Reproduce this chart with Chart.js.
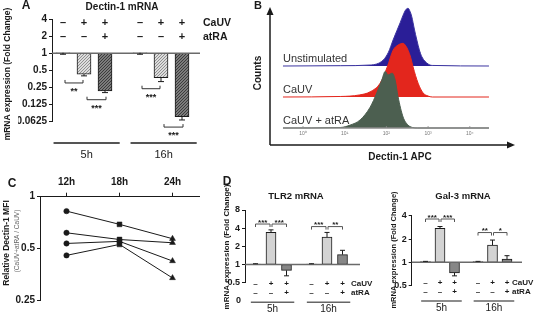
<!DOCTYPE html>
<html><head><meta charset="utf-8">
<script src="https://cdn.jsdelivr.net/npm/chart.js"></script>
<style>
html,body{margin:0;padding:0;background:#fff;}
#wrap{position:relative;width:540px;height:313px;overflow:hidden;background:#fff;}
#wrap canvas{position:absolute;left:0;top:0;}
</style></head><body>
<div id="wrap">
<canvas id="cA" width="540" height="313"></canvas>
<canvas id="cB" width="540" height="313"></canvas>
<canvas id="cC" width="540" height="313"></canvas>
<canvas id="cD1" width="540" height="313"></canvas>
<canvas id="cD2" width="540" height="313"></canvas>
</div>
<script>
// ================= DATA =================
const timepoints = ['5h', '16h'];
const caUVSigns = ['–', '+', '+'];
const atRASigns = ['–', '–', '+'];

// Panel A – Dectin-1 mRNA (fold change)
const dectinMean5h  = [1.02, 0.43, 0.217];
const dectinMean16h = [1.02, 0.37, 0.077];
const dectinErr5h   = [0.96, 0.40, 0.203];
const dectinErr16h  = [0.96, 0.317, 0.067];
const dectinSig5h   = ['**', '***'];
const dectinSig16h  = ['***', '***'];
const dectinTicks      = [0.0625, 0.125, 0.25, 0.5, 1, 2, 4];
const dectinTickLabels = ['0.0625', '0.125', '0.25', '0.5', '1', '2', '4'];

// Panel B – Dectin-1 APC histograms (log10 intensity, relative counts)
const apcTickDecades = [0, 1, 2, 3, 4];
const apcTickLabels  = ['10⁰', '10¹', '10²', '10³', '10⁴'];
const unstimDecade = [-0.48, 0.9, 1.61, 1.92, 2.05, 2.16, 2.25, 2.33, 2.40, 2.46, 2.52, 2.57, 2.61, 2.67, 2.73, 2.79, 2.85, 3.0, 3.1, 4.46];
const unstimCount  = [0, 0.5, 1.7, 10, 24, 45, 61, 75, 88, 97, 100, 94, 85, 64, 45, 28, 16, 3.5, 1, 0];
const cauvDecade   = [-0.48, 0.9, 1.35, 1.61, 1.85, 2.02, 2.16, 2.28, 2.40, 2.47, 2.52, 2.58, 2.64, 2.76, 2.88, 3.0, 3.1, 4.46];
const cauvCount    = [0, 0.9, 3.5, 9, 24, 52, 81, 90, 93, 88, 81, 69, 52, 24, 7, 1.7, 0, 0];
const atraDecade   = [-0.48, 0.9, 1.13, 1.37, 1.61, 1.77, 1.89, 1.97, 2.04, 2.14, 2.21, 2.28, 2.40, 2.52, 2.62, 2.75, 4.46];
const atraCount    = [0, 0.9, 5, 14, 36, 61, 83, 98, 92, 95, 83, 54, 19, 5, 1, 0, 0];

// Panel C – relative Dectin-1 MFI (CaUV+atRA / CaUV)
const mfiTimes  = ['12h', '18h', '24h'];
const mfiDonor1 = [0.824, 0.690, 0.569];
const mfiDonor2 = [0.616, 0.563, 0.539];
const mfiDonor3 = [0.534, 0.549, 0.422];
const mfiDonor4 = [0.455, 0.527, 0.336];
const mfiTicks      = [0.25, 0.5, 1];
const mfiTickLabels = ['0.25', '0.5', '1'];

// Panel D – TLR2 mRNA
const tlr2Mean5h  = [1.02, 3.4, 0.8];
const tlr2Mean16h = [1.02, 2.85, 1.46];
const tlr2Err5h   = [1.03, 3.75, 0.65];
const tlr2Err16h  = [1.03, 3.4, 1.72];
const tlr2Sig5h   = ['***', '***'];
const tlr2Sig16h  = ['***', '**'];
const tlr2Ticks      = [0.5, 1, 2, 4, 8];
const tlr2TickLabels = ['0.5', '1', '2', '4', '8'];

// Panel D – Gal-3 mRNA
const gal3Mean5h  = [1.02, 2.75, 0.73];
const gal3Mean16h = [1.02, 1.67, 1.1];
const gal3Err5h   = [1.03, 2.9, 0.67];
const gal3Err16h  = [1.03, 1.94, 1.22];
const gal3Sig5h   = ['***', '***'];
const gal3Sig16h  = ['**', '*'];
const gal3Ticks      = [0.5, 1, 2, 4];
const gal3TickLabels = ['0.5', '1', '2', '4'];

// ================= STYLE / HELPERS =================
const W = 540, H = 313;
const INK = '#1a1a1a';
const FAM = '"Liberation Sans", Arial, Helvetica, sans-serif';
const fnt = (size, bold = true) => (bold ? 'bold ' : '') + size + 'px ' + FAM;

function txt(ctx, s, x, y, o = {}) {
  ctx.save();
  ctx.font = o.font || fnt(10);
  ctx.fillStyle = o.color || INK;
  ctx.textAlign = o.align || 'center';
  ctx.textBaseline = o.baseline || 'middle';
  ctx.translate(x, y);
  if (o.rot) ctx.rotate(o.rot);
  ctx.fillText(s, 0, 0);
  ctx.restore();
}
function stars(ctx, s, x, yc, size) {
  ctx.save();
  ctx.font = fnt(size);
  ctx.fillStyle = INK;
  ctx.textAlign = 'center';
  ctx.textBaseline = 'alphabetic';
  ctx.fillText(s, x, yc + 0.58 * size);
  ctx.restore();
}
function seg(ctx, x1, y1, x2, y2) { ctx.beginPath(); ctx.moveTo(x1, y1); ctx.lineTo(x2, y2); ctx.stroke(); }
function hatch(bg, fg) {
  const c = document.createElement('canvas'); c.width = 3; c.height = 3;
  const x = c.getContext('2d');
  x.fillStyle = bg; x.fillRect(0, 0, 3, 3);
  x.fillStyle = fg; x.fillRect(0, 2, 1, 1); x.fillRect(1, 1, 1, 1); x.fillRect(2, 0, 1, 1);
  return x.createPattern(c, 'repeat');
}
const baseOpts = {responsive: false, animation: false, events: [], devicePixelRatio: 1,
  plugins: {legend: {display: false}, tooltip: {enabled: false}, title: {display: false}}};

// ================= BAR PANELS (A, D) =================
function barPanel(id, P) {
  const pts = [], bg = [];
  P.means.forEach((grp, g) => grp.forEach((v, t) => {
    pts.push({x: g + (t - 1) * P.within, y: [1, v]});
    bg.push(P.fills[t]);
  }));
  const xMin = (P.left - P.c0) / P.unit, xMax = (P.right - P.c0) / P.unit;
  const deco = {
    id: 'deco',
    afterDatasetsDraw(c) {
      const ctx = c.ctx, xs = c.scales.x, ys = c.scales.y, a = c.chartArea;
      ctx.save();
      const y1 = ys.getPixelForValue(1);
      ctx.strokeStyle = '#6a6a6a'; ctx.lineWidth = 1.5;
      seg(ctx, a.left, y1, a.right, y1);
      ctx.strokeStyle = INK; ctx.lineWidth = 1;
      P.means.forEach((grp, g) => {
        const cx = grp.map((v, t) => xs.getPixelForValue(g + (t - 1) * P.within));
        grp.forEach((v, t) => {
          const ym = ys.getPixelForValue(v), ye = ys.getPixelForValue(P.errs[g][t]);
          seg(ctx, cx[t], ym, cx[t], ye);
          seg(ctx, cx[t] - P.capW, ye, cx[t] + P.capW, ye);
        });
        ctx.strokeStyle = P.bracketColor;
        P.sigs[g].forEach((s, k) => {
          const i = k, j = k + 1;
          const lvl = P.below ? Math.min(P.errs[g][i], P.errs[g][j]) * P.bracketFactor
                              : Math.max(...P.errs[g]) * P.bracketFactor;
          const yb = ys.getPixelForValue(lvl);
          const x1 = cx[i] + P.bx[k][0], x2 = cx[j] + P.bx[k][1];
          const tk = P.below ? -3 : 3;
          ctx.beginPath(); ctx.moveTo(x1, yb + tk); ctx.lineTo(x1, yb); ctx.lineTo(x2, yb); ctx.lineTo(x2, yb + tk); ctx.stroke();
          stars(ctx, s, (x1 + x2) / 2, P.below ? yb + 6 : yb - 4, P.starSize);
        });
        ctx.strokeStyle = INK;
      });
      ctx.restore();
    },
    afterDraw(c) {
      const ctx = c.ctx, xs = c.scales.x;
      const wpx = xs.getPixelForValue(P.within) - xs.getPixelForValue(0);
      ctx.save();
      P.means.forEach((grp, g) => {
        grp.forEach((v, t) => {
          const x = xs.getPixelForValue(g + (t - 1) * P.within);
          txt(ctx, caUVSigns[t], x, P.rowY[0], {font: fnt(P.signSize)});
          txt(ctx, atRASigns[t], x, P.rowY[1], {font: fnt(P.signSize)});
        });
        const xc = xs.getPixelForValue(g);
        const x1 = xc + P.tl[0] * wpx, x2 = xc + P.tl[1] * wpx;
        ctx.strokeStyle = P.timeLineColor; ctx.lineWidth = P.timeLineW;
        seg(ctx, x1, P.timeY, x2, P.timeY);
        txt(ctx, timepoints[g], (x1 + x2) / 2, P.timeLabelY, {font: fnt(P.timeSize, false)});
      });
      txt(ctx, 'CaUV', P.rowLabelX, P.rowY[0], {align: 'left', font: fnt(P.rowLabelSize)});
      txt(ctx, 'atRA', P.rowLabelX, P.rowY[1], {align: 'left', font: fnt(P.rowLabelSize)});
      P.texts.forEach(o => txt(ctx, o.s, o.x, o.y, o));
      ctx.restore();
    }
  };
  return new Chart(document.getElementById(id), {
    type: 'bar',
    data: {datasets: [{data: pts, backgroundColor: bg, borderColor: INK, borderWidth: 1,
                       borderSkipped: false, barThickness: P.barW}]},
    options: Object.assign({}, baseOpts, {
      layout: {padding: {left: P.left - P.yW, right: W - P.right, top: P.top, bottom: H - P.bottom}},
      scales: {
        x: {type: 'linear', display: false, offset: false, grid: {offset: false}, min: xMin, max: xMax},
        y: {type: 'logarithmic', min: P.ticks[0], max: P.ticks[P.ticks.length - 1],
            afterBuildTicks: s => { s.ticks = P.ticks.map(v => ({value: v})); },
            afterFit: s => { s.width = P.yW; },
            ticks: {autoSkip: false, color: INK, padding: 2,
                    font: {family: FAM, size: P.tickSize, weight: 'bold'},
                    callback: v => P.tickLabels[P.ticks.indexOf(v)]},
            grid: {drawOnChartArea: false, drawTicks: true, tickLength: 3, tickColor: INK, tickWidth: 1},
            border: {display: true, color: INK, width: 1}}
      }
    }),
    plugins: [deco]
  });
}

const ROT = -Math.PI / 2;

barPanel('cA', {
  left: 52, right: 200, top: 19, bottom: 121.7, yW: 34,
  c0: 84, unit: 77, within: 21 / 77, barW: 14, capW: 3,
  ticks: dectinTicks, tickLabels: dectinTickLabels, tickSize: 10,
  means: [dectinMean5h, dectinMean16h], errs: [dectinErr5h, dectinErr16h], sigs: [dectinSig5h, dectinSig16h],
  below: true, bracketFactor: 0.75, bx: [[2, -1], [3, 1]], starSize: 9, bracketColor: '#333',
  fills: ['#ffffff', hatch('#dcdcdc', '#909090'), hatch('#7c7c7c', '#3c3c3c')],
  rowY: [23, 37], rowLabelX: 203, signSize: 11, rowLabelSize: 10.5,
  timeY: 143, timeLabelY: 155, tl: [-1.45, 1.7], timeSize: 11, timeLineColor: '#555', timeLineW: 2,
  texts: [
    {s: 'A', x: 26, y: 6, font: fnt(12)},
    {s: 'Dectin-1 mRNA', x: 122, y: 7, font: fnt(10)},
    {s: 'mRNA expression (Fold Change)', x: 8, y: 74, rot: ROT, font: fnt(8.5)}
  ]
});

barPanel('cD1', {
  left: 245, right: 360, top: 210, bottom: 282.7, yW: 22,
  c0: 271, unit: 56, within: 15.5 / 56, barW: 10, capW: 2.5,
  ticks: tlr2Ticks, tickLabels: tlr2TickLabels, tickSize: 9,
  means: [tlr2Mean5h, tlr2Mean16h], errs: [tlr2Err5h, tlr2Err16h], sigs: [tlr2Sig5h, tlr2Sig16h],
  below: false, bracketFactor: 1.25, bx: [[0, -1], [1, 0]], starSize: 8, bracketColor: '#555',
  fills: ['#ffffff', '#d3d3d3', '#878787'],
  rowY: [283.3, 292.3], rowLabelX: 351, signSize: 8, rowLabelSize: 8,
  timeY: 302.3, timeLabelY: 309.5, tl: [-1.3, 1.5], timeSize: 10, timeLineColor: '#666', timeLineW: 1.5,
  texts: [
    {s: 'D', x: 227, y: 182, font: fnt(12)},
    {s: 'TLR2 mRNA', x: 296, y: 196, font: fnt(9.5)},
    {s: 'mRNA expression (Fold Change)', x: 227, y: 247, rot: ROT, font: fnt(8)},
    {s: '0', x: 241, y: 301, align: 'right', font: fnt(9)}
  ]
});

barPanel('cD2', {
  left: 411.7, right: 522, top: 215.7, bottom: 285.7, yW: 22,
  c0: 440, unit: 52.5, within: 14.5 / 52.5, barW: 10, capW: 2.5,
  ticks: gal3Ticks, tickLabels: gal3TickLabels, tickSize: 9,
  means: [gal3Mean5h, gal3Mean16h], errs: [gal3Err5h, gal3Err16h], sigs: [gal3Sig5h, gal3Sig16h],
  below: false, bracketFactor: 1.25, bx: [[0, -1], [1, 0]], starSize: 8, bracketColor: '#555',
  fills: ['#ffffff', '#d3d3d3', '#878787'],
  rowY: [282.7, 291.7], rowLabelX: 512, signSize: 8, rowLabelSize: 8,
  timeY: 301, timeLabelY: 308.5, tl: [-1.3, 1.5], timeSize: 10, timeLineColor: '#666', timeLineW: 1.5,
  texts: [
    {s: 'Gal-3 mRNA', x: 463, y: 196, font: fnt(9.5)},
    {s: 'mRNA expression (Fold Change)', x: 394, y: 250, rot: ROT, font: fnt(7.5)}
  ]
});

// ================= PANEL B – histograms =================
const HIST_SCALE = 0.577;                           // y-units per relative count
const HIST_BASE = {unstim: 79, cauv: 48, atra: 17}; // vertical offsets of the stacked histograms
const histSets = [
  {label: 'CaUV + atRA', d: atraDecade, n: atraCount, fill: '#4c5f50', line: '#4c5f50', base: HIST_BASE.atra},
  {label: 'CaUV', d: cauvDecade, n: cauvCount, fill: '#e3261d', line: '#e3261d', base: HIST_BASE.cauv},
  {label: 'Unstimulated', d: unstimDecade, n: unstimCount, fill: '#2a1e97', line: '#3b34a0', base: HIST_BASE.unstim}
];
const bLeft = 270, bRight = 515, bTop = 7, bBottom = 145, bPxPerDecade = 41.7, bZeroPx = 303;
new Chart(document.getElementById('cB'), {
  type: 'line',
  data: {datasets: histSets.map(h => ({
    data: h.d.map((d, i) => ({x: d, y: h.base + h.n[i] * HIST_SCALE})),
    borderColor: h.line, backgroundColor: h.fill, borderWidth: 1, pointRadius: 0,
    cubicInterpolationMode: 'monotone', fill: {value: h.base}
  }))},
  options: Object.assign({}, baseOpts, {
    layout: {padding: {left: bLeft, right: W - bRight, top: bTop, bottom: H - bBottom}},
    scales: {
      x: {type: 'linear', display: false, offset: false, min: (bLeft - bZeroPx) / bPxPerDecade, max: (bRight - bZeroPx) / bPxPerDecade},
      y: {type: 'linear', display: false, min: 0, max: bBottom - bTop}
    }
  }),
  plugins: [{
    id: 'decoB',
    afterDatasetsDraw(c) {
      const ctx = c.ctx, xs = c.scales.x, ys = c.scales.y, a = c.chartArea;
      ctx.save();
      const g = histSets[0];
      const yb = ys.getPixelForValue(g.base);
      const x0 = xs.getPixelForValue(g.d[0]), x1 = xs.getPixelForValue(g.d[g.d.length - 1]);
      ctx.strokeStyle = '#8a8a8a'; ctx.lineWidth = 1.5;
      seg(ctx, x0, yb, x1, yb);
      ctx.lineWidth = 0.8;
      apcTickDecades.forEach((d, i) => {
        const x = xs.getPixelForValue(d);
        seg(ctx, x, yb, x, yb - 2);
        txt(ctx, apcTickLabels[i], x, yb + 6, {font: fnt(5, false), color: '#777'});
      });
      histSets.forEach(h => {
        txt(ctx, h.label, xs.getPixelForValue(h.d[0]), ys.getPixelForValue(h.base) - 7,
            {align: 'left', font: fnt(11, false), color: '#333'});
      });
      // axes with arrows
      ctx.strokeStyle = INK; ctx.fillStyle = INK; ctx.lineWidth = 1.5;
      seg(ctx, a.left, a.bottom, a.left, a.top + 5);
      seg(ctx, a.left, a.bottom, a.right - 5, a.bottom);
      ctx.beginPath(); ctx.moveTo(a.left, a.top); ctx.lineTo(a.left - 3.5, a.top + 8); ctx.lineTo(a.left + 3.5, a.top + 8); ctx.closePath(); ctx.fill();
      ctx.beginPath(); ctx.moveTo(a.right, a.bottom); ctx.lineTo(a.right - 8, a.bottom - 3.5); ctx.lineTo(a.right - 8, a.bottom + 3.5); ctx.closePath(); ctx.fill();
      txt(ctx, 'B', 258, 6, {font: fnt(11)});
      txt(ctx, 'Counts', 258, 73, {rot: ROT, font: fnt(10)});
      txt(ctx, 'Dectin-1 APC', 400, 157, {font: fnt(10)});
      ctx.restore();
    }
  }]
});

// ================= PANEL C – relative MFI =================
new Chart(document.getElementById('cC'), {
  type: 'line',
  data: {labels: mfiTimes, datasets: [mfiDonor1, mfiDonor2, mfiDonor3, mfiDonor4].map(d => ({
    data: d, borderColor: INK, borderWidth: 1, tension: 0,
    pointStyle: ['circle', 'rect', 'triangle'], pointRadius: [2.7, 3.4, 3.4],
    pointBackgroundColor: INK, pointBorderColor: INK, pointBorderWidth: 0.5
  }))},
  options: Object.assign({}, baseOpts, {
    layout: {padding: {left: 40 - 28, right: W - 199, top: 196.7 - 20, bottom: H - 300}},
    scales: {
      x: {position: 'top', offset: true, afterFit: s => { s.height = 20; },
          grid: {drawOnChartArea: false, offset: false, drawTicks: true, tickLength: 4, tickColor: INK},
          border: {display: true, color: INK, width: 1},
          ticks: {color: INK, padding: 4, font: {family: FAM, size: 10, weight: 'bold'}}},
      y: {type: 'logarithmic', min: mfiTicks[0], max: mfiTicks[mfiTicks.length - 1],
          afterBuildTicks: s => { s.ticks = mfiTicks.map(v => ({value: v})); },
          afterFit: s => { s.width = 28; },
          ticks: {autoSkip: false, color: INK, padding: 2, font: {family: FAM, size: 10, weight: 'bold'},
                  callback: v => mfiTickLabels[mfiTicks.indexOf(v)]},
          grid: {drawOnChartArea: false, drawTicks: true, tickLength: 3, tickColor: INK},
          border: {display: true, color: INK, width: 1}}
    }
  }),
  plugins: [{
    id: 'decoC',
    afterDraw(c) {
      const ctx = c.ctx;
      txt(ctx, 'C', 12, 184, {font: fnt(12)});
      txt(ctx, 'Relative Dectin-1 MFI', 7, 243, {rot: ROT, font: fnt(8.5)});
      txt(ctx, '(CaUV+atRA / CaUV)', 17, 241, {rot: ROT, font: fnt(6.5, false), color: '#666'});
    }
  }]
});
</script>
</body></html>
